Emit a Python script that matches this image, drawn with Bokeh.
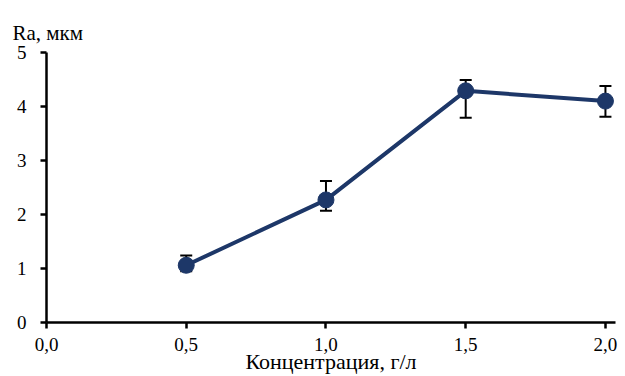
from bokeh.plotting import figure
from bokeh.models import ColumnDataSource, Whisker, TeeHead, FixedTicker, Range1d
from bokeh.embed import file_html
from bokeh.resources import INLINE

# Data
concentration = [0.5, 1.0, 1.5, 2.0]
ra = [1.06, 2.27, 4.29, 4.10]
ra_lower = [0.95, 2.07, 3.79, 3.81]
ra_upper = [1.24, 2.62, 4.49, 4.38]
x_ticks = [0.0, 0.5, 1.0, 1.5, 2.0]
x_tick_labels = ["0,0", "0,5", "1,0", "1,5", "2,0"]
y_ticks = [0, 1, 2, 3, 4, 5]
x_title = "Концентрация, г/л"
y_title = "Ra, мкм"

FONT = "Liberation Serif"
NAVY = "#1d3768"

p = figure(width=625, height=376, output_backend="svg", toolbar_location=None,
           x_range=Range1d(0, 2.036), y_range=Range1d(0, 5),
           min_border_left=46, min_border_right=10, min_border_top=52, min_border_bottom=51,
           title=y_title)
p.outline_line_color = None
p.xgrid.visible = False
p.ygrid.visible = False
p.background_fill_color = "white"

p.title.align = "left"
p.title.offset = -34
p.title.text_font = FONT
p.title.text_font_size = "21px"
p.title.text_font_style = "normal"
p.title.text_color = "black"
p.title.standoff = 16

src = ColumnDataSource(dict(x=concentration, y=ra, lo=ra_lower, hi=ra_upper))

w = Whisker(source=src, base="x", lower="lo", upper="hi", line_color="black", line_width=2,
            upper_head=TeeHead(size=12, line_color="black", line_width=2),
            lower_head=TeeHead(size=12, line_color="black", line_width=2))
p.add_layout(w)
p.line("x", "y", source=src, line_color=NAVY, line_width=4)
p.scatter("x", "y", source=src, size=16, fill_color=NAVY, line_color=NAVY)

for ax in (p.xaxis[0], p.yaxis[0]):
    ax.axis_line_width = 2.5
    ax.axis_line_color = "black"
    ax.major_tick_line_width = 2.5
    ax.major_tick_line_color = "black"
    ax.major_tick_in = 0
    ax.major_tick_out = 6
    ax.minor_tick_line_color = None
    ax.major_label_text_font = FONT
    ax.major_label_text_font_size = "19px"
    ax.major_label_text_color = "black"

p.xaxis[0].ticker = FixedTicker(ticks=x_ticks)
p.xaxis[0].major_label_overrides = {t: l for t, l in zip(x_ticks, x_tick_labels)}
p.xaxis[0].major_label_standoff = 9
p.xaxis[0].axis_label = x_title
p.xaxis[0].axis_label_text_font = FONT
p.xaxis[0].axis_label_text_font_size = "22px"
p.xaxis[0].axis_label_text_font_style = "normal"
p.xaxis[0].axis_label_text_color = "black"
p.xaxis[0].axis_label_standoff = -5

p.yaxis[0].ticker = FixedTicker(ticks=y_ticks)
p.yaxis[0].major_label_standoff = 14

open("out.html", "w").write(file_html(p, INLINE))
